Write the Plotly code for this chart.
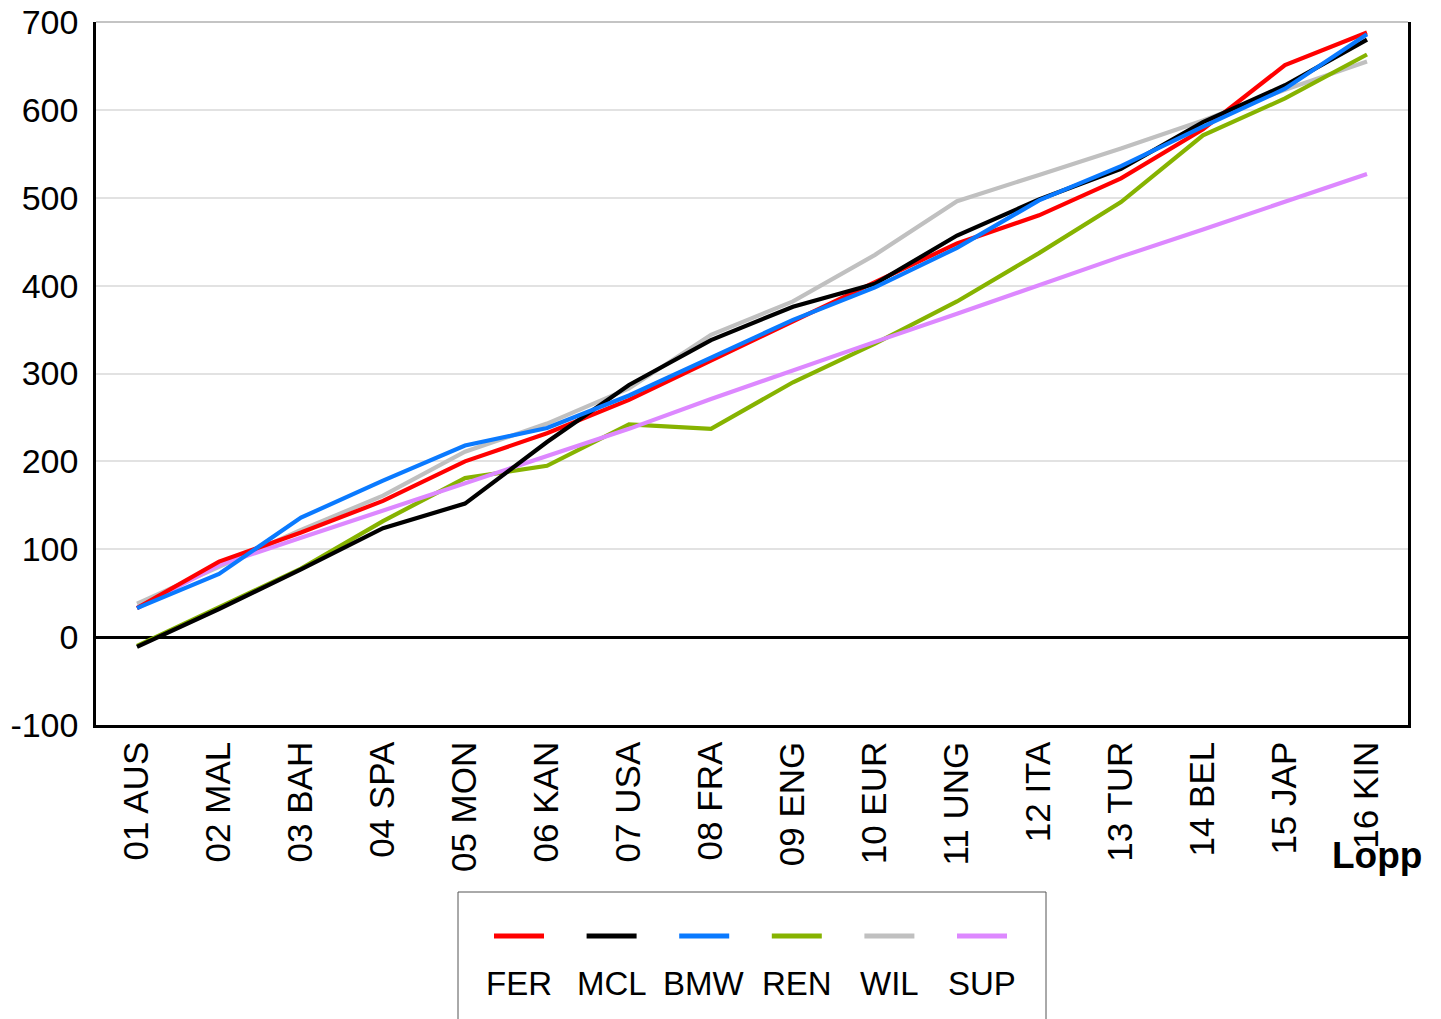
import plotly.graph_objects as go

races = ["01 AUS", "02 MAL", "03 BAH", "04 SPA", "05 MON", "06 KAN", "07 USA", "08 FRA",
         "09 ENG", "10 EUR", "11 UNG", "12 ITA", "13 TUR", "14 BEL", "15 JAP", "16 KIN"]

fer = [33, 86, 119, 155, 200, 232, 270, 315, 360, 404, 448, 480, 522, 578, 651, 688]
mcl = [-11, 32, 77, 124, 152, 222, 287, 338, 376, 402, 457, 498, 533, 586, 628, 680]
bmw = [33, 72, 136, 178, 218, 238, 275, 318, 361, 398, 443, 497, 536, 581, 624, 686]
ren = [-10, 34, 78, 132, 181, 195, 242, 237, 290, 334, 382, 437, 495, 571, 613, 663]
wil = [38, 80, 122, 161, 211, 243, 283, 344, 382, 435, 496, 526, 556, 588, 623, 655]
sup = [33, 82, 113, 144, 176, 206, 237, 271, 304, 336, 368, 401, 433, 464, 496, 527]

names = ["FER", "MCL", "BMW", "REN", "WIL", "SUP"]
colors = ["#ff0000", "#000000", "#0a7aff", "#86b300", "#c0c0c0", "#dd88ff"]
series = [fer, mcl, bmw, ren, wil, sup]

y_ticks = [-100, 0, 100, 200, 300, 400, 500, 600, 700]
y_ticktext = [str(v) for v in y_ticks]

FONT = "Liberation Sans, Arial, sans-serif"

fig = go.Figure()
order = [4, 3, 5, 0, 1, 2]
for i in order:
    fig.add_trace(go.Scatter(
        x=races, y=series[i], name=names[i], mode="lines",
        line=dict(color=colors[i], width=4.2),
        showlegend=False,
    ))

L, R, T, B = 96, 33, 22, 294
W, H = 1441, 1019
pw = W - L - R
ph = H - T - B

def px_x(px):
    return (px - L) / pw

def px_y(py):
    return (H - B - py) / ph

shapes = []
annotations = []

shapes.append(dict(type="line", xref="paper", yref="paper", x0=0, x1=1, y0=1, y1=1,
                   line=dict(color="#b0b0b0", width=1.5)))

shapes.append(dict(type="rect", xref="paper", yref="paper",
                   x0=px_x(458), x1=px_x(1046), y0=px_y(892), y1=px_y(1040),
                   line=dict(color="#555555", width=1), fillcolor="white", layer="above"))
for k, (nm, c) in enumerate(zip(names, colors)):
    cx = 519 + k * 92.6
    shapes.append(dict(type="line", xref="paper", yref="paper",
                       x0=px_x(cx - 25), x1=px_x(cx + 25), y0=px_y(936), y1=px_y(936),
                       line=dict(color=c, width=5), layer="above"))
    annotations.append(dict(text=nm, xref="paper", yref="paper", x=px_x(cx), y=px_y(983),
                            showarrow=False, xanchor="center", yanchor="middle",
                            font=dict(family=FONT, size=33, color="black")))

annotations.append(dict(text="<b>Lopp</b>", xref="paper", yref="paper",
                        x=px_x(1377), y=px_y(855), showarrow=False,
                        xanchor="center", yanchor="middle",
                        font=dict(family=FONT, size=37, color="black")))

fig.update_layout(
    width=W, height=H,
    margin=dict(l=L, r=R, t=T, b=B, autoexpand=False),
    paper_bgcolor="white", plot_bgcolor="white",
    font=dict(family=FONT, size=34, color="black"),
    shapes=shapes, annotations=annotations,
    showlegend=False,
    xaxis=dict(
        type="category", range=[-0.5, 15.5], tickangle=-90,
        showline=True, linecolor="black", linewidth=2.5,
        showgrid=False, ticks="", ticklabelstandoff=0,
        tickfont=dict(family=FONT, size=35, color="black"),
    ),
    yaxis=dict(
        range=[-100, 700], tickvals=y_ticks, ticktext=y_ticktext,
        showline=True, linecolor="black", linewidth=2.5, mirror=True,
        showgrid=True, gridcolor="#e2e2e2", gridwidth=1.5,
        zeroline=True, zerolinecolor="black", zerolinewidth=2.5,
        ticks="", ticklabelstandoff=8,
        tickfont=dict(family=FONT, size=34, color="black"),
    ),
)

fig.write_html("out.html", config={"displayModeBar": False},
               post_script="document.body.style.margin='0px';")
